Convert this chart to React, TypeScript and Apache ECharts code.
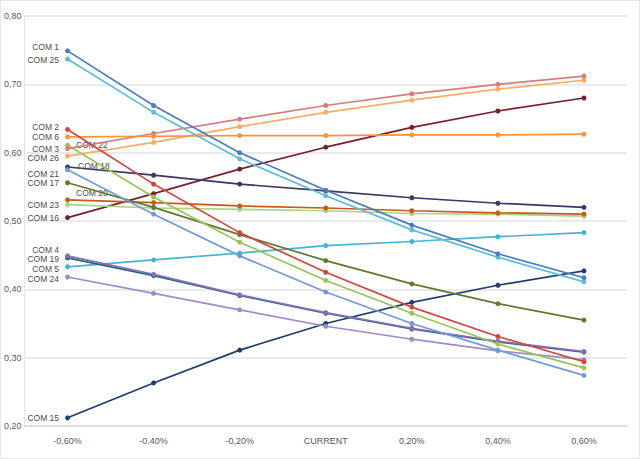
import React, { useEffect, useRef } from 'react';
import * as echarts from 'echarts';

// x categories
const categories = ['-0,60%', '-0,40%', '-0,20%', 'CURRENT', '0,20%', '0,40%', '0,60%'];

// series names, in legend/label order
const names = [
  'COM 1', 'COM 25', 'COM 2', 'COM 6', 'COM 3', 'COM 22', 'COM 26', 'COM 21', 'COM 18',
  'COM 17', 'COM 20', 'COM 23', 'COM 16', 'COM 4', 'COM 19', 'COM 5', 'COM 24', 'COM 15',
];

// values
const com1 = [0.749, 0.669, 0.600, 0.545, 0.494, 0.452, 0.417];
const com25 = [0.737, 0.659, 0.591, 0.537, 0.487, 0.447, 0.411];
const com2 = [0.634, 0.554, 0.483, 0.425, 0.374, 0.331, 0.294];
const com6 = [0.623, 0.624, 0.625, 0.625, 0.626, 0.626, 0.627];
const com3 = [0.606, 0.628, 0.649, 0.669, 0.686, 0.700, 0.712];
const com22 = [0.611, 0.535, 0.469, 0.413, 0.365, 0.320, 0.285];
const com26 = [0.595, 0.615, 0.638, 0.659, 0.677, 0.693, 0.706];
const com21 = [0.575, 0.510, 0.449, 0.396, 0.350, 0.311, 0.274];
const com18 = [0.579, 0.567, 0.554, 0.544, 0.534, 0.526, 0.520];
const com17 = [0.556, 0.520, 0.480, 0.442, 0.408, 0.379, 0.355];
const com20 = [0.531, 0.527, 0.522, 0.519, 0.515, 0.512, 0.510];
const com23 = [0.524, 0.519, 0.517, 0.515, 0.511, 0.510, 0.507];
const com16 = [0.505, 0.540, 0.576, 0.608, 0.637, 0.661, 0.680];
const com4 = [0.449, 0.422, 0.392, 0.366, 0.343, 0.324, 0.309];
const com19 = [0.446, 0.420, 0.391, 0.365, 0.342, 0.323, 0.308];
const com5 = [0.433, 0.443, 0.453, 0.464, 0.470, 0.477, 0.483];
const com24 = [0.418, 0.394, 0.370, 0.346, 0.327, 0.310, 0.297];
const com15 = [0.212, 0.263, 0.311, 0.350, 0.381, 0.406, 0.427];

const values = [
  com1, com25, com2, com6, com3, com22, com26, com21, com18,
  com17, com20, com23, com16, com4, com19, com5, com24, com15,
];

const colors = [
  '#4A7DC0', '#5DBCDC', '#D2463F', '#F7923F', '#D67C7C', '#9BC25A', '#F9AC66', '#6E9CD9', '#3D3566',
  '#5E7A2F', '#C65A16', '#A9D383', '#76202A', '#8C6DB8', '#1F6677', '#47B3D2', '#A08BCA', '#1F3D6E',
];

// label placement for the name shown at the first point
const labelPos: Record<string, { pos: string; off: [number, number] }> = {
  'COM 1': { pos: 'left', off: [0, -4] },
  'COM 25': { pos: 'left', off: [0, 1] },
  'COM 2': { pos: 'left', off: [0, -2] },
  'COM 3': { pos: 'left', off: [0, 0] },
  'COM 22': { pos: 'right', off: [0, 0] },
  'COM 26': { pos: 'left', off: [0, 2] },
  'COM 21': { pos: 'left', off: [0, 4] },
  'COM 18': { pos: 'right', off: [2, -1] },
  'COM 20': { pos: 'right', off: [0, -7] },
  'COM 4': { pos: 'left', off: [0, -6] },
  'COM 19': { pos: 'left', off: [0, 1] },
  'COM 5': { pos: 'left', off: [0, 2] },
  'COM 24': { pos: 'left', off: [0, 2] },
};

export default function App() {
  const ref = useRef<HTMLDivElement>(null);

  useEffect(() => {
    if (!ref.current) return;
    const chart = echarts.init(ref.current, undefined, { renderer: 'svg' });

    const series = names.map((name, i) => {
      const lp = labelPos[name] || { pos: 'left', off: [0, 0] };
      return {
        name,
        type: 'line',
        data: values[i],
        symbol: 'circle',
        symbolSize: 5,
        z: 20 - i,
        lineStyle: { width: 1.7, color: colors[i] },
        itemStyle: { color: colors[i] },
        label: {
          show: true,
          position: lp.pos,
          offset: lp.off,
          distance: 6,
          fontSize: 8.5,
          fontFamily: 'Liberation Sans Narrow, Liberation Sans, sans-serif',
          color: '#4A4A4A',
          formatter: (p: any) => (p.dataIndex === 0 ? name : ''),
        },
      };
    });

    chart.setOption({
      animation: false,
      backgroundColor: '#fff',
      grid: { left: 20, right: 12, top: 15, bottom: 32, containLabel: false },
      xAxis: {
        type: 'category',
        data: categories,
        boundaryGap: true,
        axisLine: { lineStyle: { color: '#D9D9D9', width: 1.5 } },
        axisTick: { show: false },
        axisLabel: {
          color: '#595959',
          fontSize: 9,
          margin: 10,
          fontFamily: 'Liberation Sans Narrow, Liberation Sans, sans-serif',
        },
      },
      yAxis: {
        type: 'value',
        min: 0.2,
        max: 0.8,
        interval: 0.1,
        axisLine: { show: true, lineStyle: { color: '#E6E6E6' } },
        axisTick: { show: false },
        splitLine: { lineStyle: { color: '#E3E3E3', width: 1.5 } },
        axisLabel: {
          color: '#595959',
          fontSize: 9,
          margin: 3,
          fontFamily: 'Liberation Sans Narrow, Liberation Sans, sans-serif',
          formatter: (v: number) => v.toFixed(2).replace('.', ','),
        },
      },
      series,
    });

    return () => chart.dispose();
  }, []);

  return (
    <div
      style={{
        position: 'fixed',
        left: 0,
        top: 0,
        width: 640,
        height: 459,
        boxSizing: 'border-box',
        border: '1px solid #E8E8E8',
        background: '#fff',
      }}
    >
      <div ref={ref} style={{ width: 638, height: 457 }} />
    </div>
  );
}
